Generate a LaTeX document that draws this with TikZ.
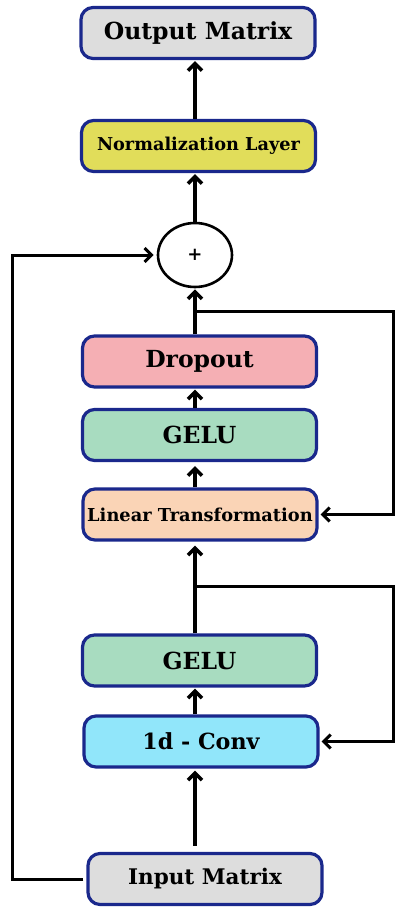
\documentclass[tikz,border=0pt]{standalone}
\usepackage{fontspec}
\newfontfamily\labelfont{DejaVu Serif}
\usetikzlibrary{arrows.meta,shapes.geometric}
\definecolor{edgeblue}{RGB}{26,40,140}
\definecolor{boxgray}{RGB}{221,221,221}
\definecolor{boxyellow}{RGB}{225,221,90}
\definecolor{boxpink}{RGB}{245,175,180}
\definecolor{boxgreen}{RGB}{168,220,192}
\definecolor{boxpeach}{RGB}{250,212,182}
\definecolor{boxcyan}{RGB}{145,230,250}
\tikzset{
  block/.style={draw=edgeblue, line width=3.2pt, rounded corners=12pt,
    minimum width=234pt, minimum height=51pt, inner sep=0pt,
    font=\labelfont\fontsize{#1}{#1}\selectfont\bfseries},
  block/.default=23.5,
  link/.style={line width=3.6pt, -{Straight Barb[length=7pt,width=14pt]}},
  branch/.style={line width=3pt, -{Straight Barb[length=7pt,width=14pt]}}
}
\begin{document}
\begin{tikzpicture}[x=1pt,y=-1pt]
\useasboundingbox (0,0) rectangle (395,909);

% processing blocks
\node[block, fill=boxgray] (out) at (198,33) {Output Matrix};
\node[block=17.7, fill=boxyellow] (norm) at (198.5,146) {Normalization Layer};
\node[draw, ellipse, line width=2.6pt, minimum width=74pt, minimum height=64pt,
      inner sep=0pt, font=\labelfont\fontsize{18}{18}\selectfont\bfseries] (plus) at (195,255) {+};
\node[block, fill=boxpink] (drop) at (199.5,361.5) {Dropout};
\node[block, fill=boxgreen] (gelua) at (199.5,435) {GELU};
\node[block=17.8, fill=boxpeach] (lt) at (200,514.5) {Linear Transformation};
\node[block, fill=boxgreen] (gelub) at (199.5,660.5) {GELU};
\node[block=22.2, fill=boxcyan] (conv) at (201,741.5) {1d - Conv};
\node[block=21.5, fill=boxgray] (inp) at (205,879) {Input Matrix};

% branch and bend points
\coordinate (b1) at (195,311);
\coordinate (r1) at (393,311);
\coordinate (b2) at (195,586);
\coordinate (r2) at (393,586);
\coordinate (l1) at (12,879);

% main flow
\draw[link] (norm.north -| plus) -- ([yshift=-1pt]out.south -| plus);
\draw[link] (plus.north) -- ([yshift=-1pt]norm.south -| plus);
\draw[link] (drop.north -| plus) -- ([yshift=-1pt]plus.south);
\draw[link] (gelua.north -| plus) -- ([yshift=-1pt]drop.south -| plus);
\draw[link] (lt.north -| plus) -- ([yshift=-4pt]gelua.south -| plus);
\draw[link] (gelub.north -| plus) -- ([yshift=-4pt]lt.south -| plus);
\draw[link] (conv.north -| plus) -- ([yshift=-1pt]gelub.south -| plus);
\draw[link, shorten <=6pt] (inp.north -| plus) -- ([yshift=-2pt]conv.south -| plus);

% skip connections
\draw[branch] (b1) -- (r1) |- ([xshift=2pt]lt.east);
\draw[branch] (b2) -- (r2) |- ([xshift=2pt]conv.east);
\draw[branch, shorten <=3pt] (inp.west) -- (l1) |- ([xshift=-3pt]plus.west);
\end{tikzpicture}
\end{document}
